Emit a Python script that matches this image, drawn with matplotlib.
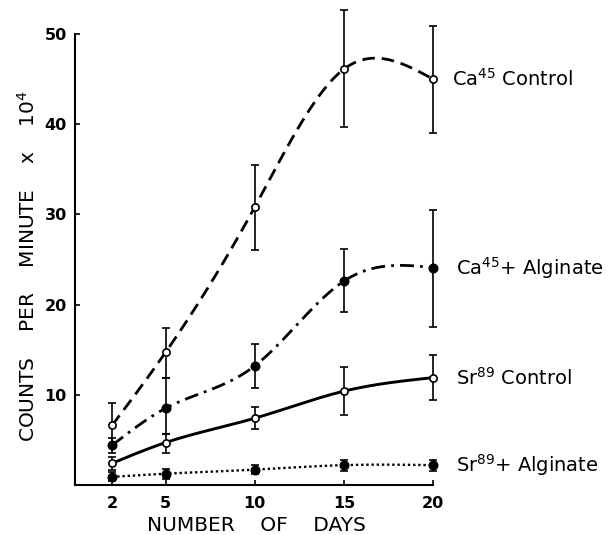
import numpy as np
import matplotlib
matplotlib.use("Agg")
import matplotlib.pyplot as plt

# ---- data ----
days = [2, 5, 10, 15, 20]

ca_ctrl = [6.6, 14.7, 30.8, 46.1, 45.0]
ca_ctrl_lo = [4.3, 11.9, 26.1, 39.7, 39.0]
ca_ctrl_hi = [9.1, 17.4, 35.5, 52.7, 50.9]

ca_alg = [4.4, 8.5, 13.2, 22.6, 24.1]
ca_alg_lo = [3.6, 5.6, 10.7, 19.2, 17.5]
ca_alg_hi = [5.2, 11.9, 15.6, 26.2, 30.5]

sr_ctrl = [2.4, 4.7, 7.4, 10.4, 11.9]
sr_ctrl_lo = [1.7, 3.6, 6.2, 7.8, 9.4]
sr_ctrl_hi = [3.1, 5.6, 8.7, 13.1, 14.4]

sr_alg = [0.9, 1.25, 1.7, 2.2, 2.2]
sr_alg_lo = [0.4, 0.7, 1.2, 1.6, 1.6]
sr_alg_hi = [1.4, 1.8, 2.2, 2.8, 2.8]

labels = ["Ca$^{45}$ Control", "Ca$^{45}$+ Alginate", "Sr$^{89}$ Control", "Sr$^{89}$+ Alginate"]
xticks = [2, 5, 10, 15, 20]
yticks = [10, 20, 30, 40, 50]


def natural_spline(x, y, xs):
    x = np.asarray(x, float)
    y = np.asarray(y, float)
    n = len(x)
    h = np.diff(x)
    A = np.zeros((n, n))
    b = np.zeros(n)
    A[0, 0] = 1
    A[-1, -1] = 1
    for i in range(1, n - 1):
        A[i, i - 1] = h[i - 1]
        A[i, i] = 2 * (h[i - 1] + h[i])
        A[i, i + 1] = h[i]
        b[i] = 3 * ((y[i + 1] - y[i]) / h[i] - (y[i] - y[i - 1]) / h[i - 1])
    c = np.linalg.solve(A, b)
    bb = np.zeros(n - 1)
    d = np.zeros(n - 1)
    for i in range(n - 1):
        bb[i] = (y[i + 1] - y[i]) / h[i] - h[i] * (2 * c[i] + c[i + 1]) / 3
        d[i] = (c[i + 1] - c[i]) / (3 * h[i])
    idx = np.clip(np.searchsorted(x, xs) - 1, 0, n - 2)
    dx = xs - x[idx]
    return y[idx] + bb[idx] * dx + c[idx] * dx ** 2 + d[idx] * dx ** 3


fig = plt.figure(figsize=(6.13, 5.35), dpi=100)
ax = fig.add_axes([0.1223, 0.0935, 0.7064 - 0.1223, 0.8430])

series = [
    (ca_ctrl, ca_ctrl_lo, ca_ctrl_hi, (0, (4.5, 2.5)), "white", 2.0),
    (ca_alg, ca_alg_lo, ca_alg_hi, (0, (5, 2.2, 1, 2.2)), "black", 2.0),
    (sr_ctrl, sr_ctrl_lo, sr_ctrl_hi, "-", "white", 2.1),
    (sr_alg, sr_alg_lo, sr_alg_hi, (0, (1, 1.2)), "black", 1.7),
]

xs = np.linspace(days[0], days[-1], 300)
for vals, lo, hi, ls, mfc, lw in series:
    ax.plot(xs, natural_spline(days, vals, xs), color="black", lw=lw, ls=ls,
            clip_on=False, zorder=2)
    v = np.array(vals)
    yerr = np.vstack([v - np.array(lo), np.array(hi) - v])
    ax.errorbar(days, vals, yerr=yerr, fmt="none", ecolor="black", elinewidth=1.2,
                capsize=2.8, capthick=1.2, clip_on=False, zorder=3)
    ax.plot(days, vals, "o", mfc=mfc, mec="black", mew=1.2,
            ms=5.2 if mfc == "white" else 6, clip_on=False, zorder=4)

for lab, vals, xoff in zip(labels, [ca_ctrl, ca_alg, sr_ctrl, sr_alg], [1.05, 1.3, 1.3, 1.3]):
    ax.text(days[-1] + xoff, vals[-1], lab, fontsize=14, va="center", ha="left",
            clip_on=False)

ax.set_xlim(-0.08, 20)
ax.set_ylim(0, 50)
ax.set_xticks(xticks)
ax.set_yticks(yticks)
ax.set_xticklabels([str(t) for t in xticks], fontsize=11.5, fontweight="bold")
ax.set_yticklabels([str(t) for t in yticks], fontsize=11.5, fontweight="bold")
ax.tick_params(direction="in", length=3.5, width=1.2)
ax.tick_params(axis="y", pad=6)
ax.tick_params(axis="x", pad=8)
for s in ["top", "right"]:
    ax.spines[s].set_visible(False)
for s in ["left", "bottom"]:
    ax.spines[s].set_linewidth(1.5)

fig.text(0.418, 0.018, "NUMBER    OF    DAYS", fontsize=14.5, ha="center", va="center")
fig.text(0.046, 0.503, "COUNTS    PER    MINUTE    x    10$^4$", fontsize=14.5,
         rotation=90, ha="center", va="center")

fig.savefig("out.png", dpi=100)
